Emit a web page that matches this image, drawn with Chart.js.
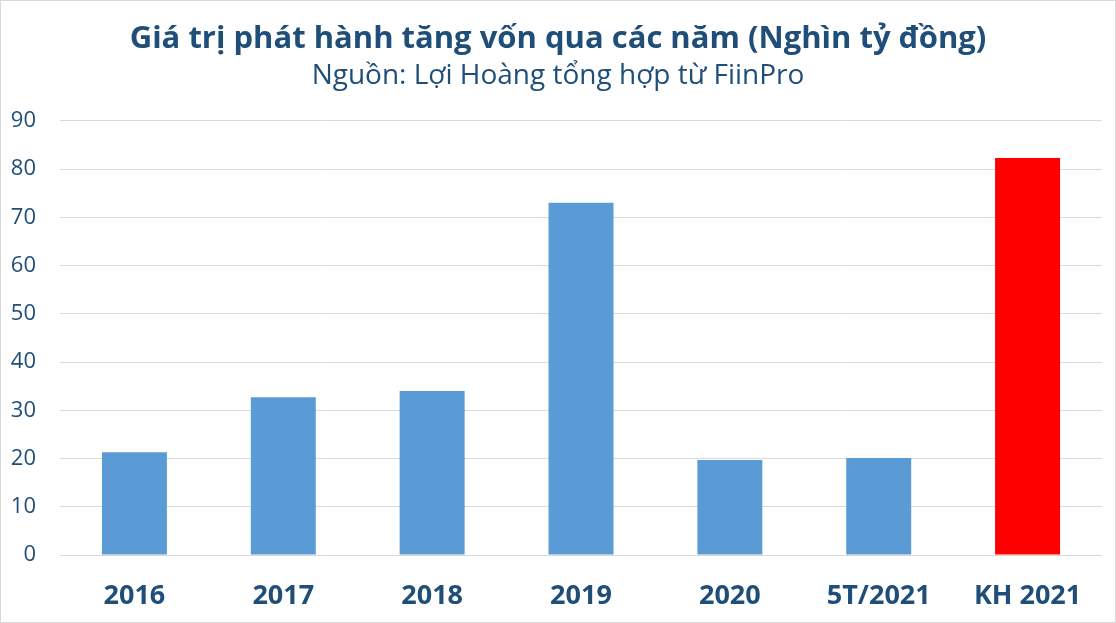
<!DOCTYPE html>
<html><head><meta charset="utf-8">
<script src="https://cdn.jsdelivr.net/npm/chart.js@4/dist/chart.umd.min.js"></script>
<style>
html,body{margin:0;padding:0;background:#fff;}
#wrap{position:relative;width:1116px;height:623px;box-sizing:border-box;border:1px solid #d9d9d9;}
</style></head><body>
<div id="wrap"><canvas id="c" width="1114" height="621"></canvas></div>
<script>
const categories = ["2016","2017","2018","2019","2020","5T/2021","KH 2021"];
const values = [21.3, 32.7, 34.0, 73.0, 19.7, 20.1, 82.3];
const barColors = ["#5B9BD5","#5B9BD5","#5B9BD5","#5B9BD5","#5B9BD5","#5B9BD5","#FF0000"];
const yTicks = [0,10,20,30,40,50,60,70,80,90];
const titleText = "Giá trị phát hành tăng vốn qua các năm (Nghìn tỷ đồng)";
const subtitleText = "Nguồn: Lợi Hoàng tổng hợp từ FiinPro";

const textColor = "#1F4E79";
const FONT = "'Open Sans', 'Noto Sans', sans-serif";

new Chart(document.getElementById('c'), {
  type: 'bar',
  data: {
    labels: categories,
    datasets: [{ data: values, backgroundColor: barColors, barPercentage: 0.873, categoryPercentage: 0.5 }]
  },
  options: {
    responsive: false,
    animation: false,
    layout: { padding: { left: 0, right: 0, top: 0, bottom: 0 } },
    plugins: {
      legend: { display: false },
      tooltip: { enabled: false },
      title: { display: true, text: titleText, color: textColor,
        font: { family: FONT, size: 31, weight: 'bold' }, padding: { top: 20, bottom: 1 } },
      subtitle: { display: true, text: subtitleText, color: textColor,
        font: { family: FONT, size: 28, weight: 'normal' }, padding: { top: 0, bottom: 28 } }
    },
    scales: {
      y: {
        min: 0, max: 90,
        afterBuildTicks: s => { s.ticks = yTicks.map(v => ({ value: v })); },
        ticks: { color: textColor, font: { family: FONT, size: 22 }, padding: 24 },
        grid: { color: "#d9d9d9", drawTicks: false, lineWidth: 1 },
        border: { display: false },
        afterFit: s => { s.width = 59; }
      },
      yRight: {
        position: 'right', display: true,
        ticks: { display: false },
        grid: { display: false, drawTicks: false },
        border: { display: false },
        afterFit: s => { s.width = 13; }
      },
      x: {
        ticks: { color: textColor, font: { family: FONT, size: 27, weight: 'bold' }, padding: 25 },
        grid: { display: false, drawTicks: false },
        border: { display: false },
        afterFit: s => { s.height = 67; }
      }
    }
  }
});
</script>
</body></html>
